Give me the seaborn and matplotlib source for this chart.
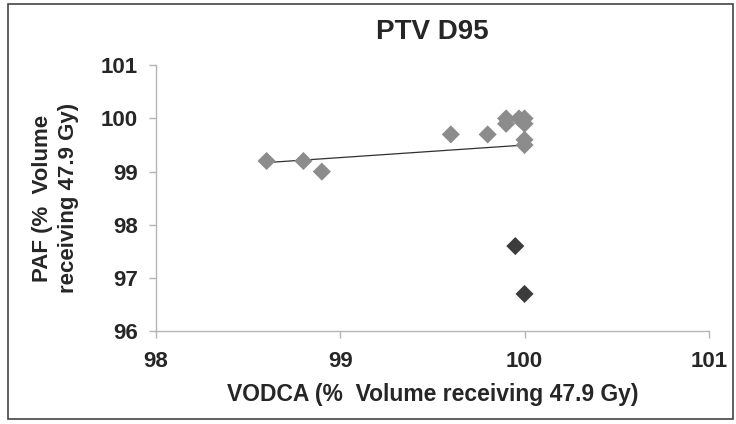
import seaborn as sns
import pandas as pd
import matplotlib.pyplot as plt
from matplotlib.patches import Rectangle

# values
vodca_main = [98.6, 98.8, 98.9, 99.6, 99.8, 99.9, 99.9, 99.97, 100.0, 100.0, 100.0, 100.0]
paf_main = [99.2, 99.2, 99.0, 99.7, 99.7, 100.0, 99.9, 100.0, 100.0, 99.9, 99.6, 99.5]
vodca_out = [99.95, 100.0]
paf_out = [97.6, 96.7]

# trend line as drawn in the chart (start/end)
trend_x = [98.6, 100.0]
trend_y = [99.17, 99.5]

df = pd.DataFrame({
    "vodca": vodca_main + vodca_out,
    "paf": paf_main + paf_out,
    "group": ["main"] * len(vodca_main) + ["outlier"] * len(vodca_out),
})
trend = pd.DataFrame({"vodca": trend_x, "paf": trend_y})

sns.set_theme(style="white")
plt.rcParams['font.family'] = ['Liberation Sans', 'DejaVu Sans']

fig = plt.figure(figsize=(7.36, 4.24), dpi=100)
ax = fig.add_axes([0.212, 0.219, 0.751, 0.627])

sns.lineplot(data=trend, x="vodca", y="paf", ax=ax, color="#303030", lw=0.9)

sns.scatterplot(data=df, x="vodca", y="paf", hue="group", ax=ax,
                palette={"main": "#8c8c8c", "outlier": "#3c3c3c"},
                marker="D", s=85, edgecolor="none", legend=False, zorder=3)

ax.set_xlim(98, 101)
ax.set_ylim(96, 101)
ax.set_xticks([98, 99, 100, 101])
ax.set_yticks([96, 97, 98, 99, 100, 101])
ax.tick_params(axis="both", labelsize=16, length=5, width=1, color="#b5b5b5",
               direction="out", bottom=True, left=True)
ax.tick_params(axis="x", pad=9)
ax.tick_params(axis="y", pad=8)
for lab in ax.get_xticklabels() + ax.get_yticklabels():
    lab.set_fontweight("bold")

for side in ["top", "right"]:
    ax.spines[side].set_visible(False)
for side in ["left", "bottom"]:
    ax.spines[side].set_color("#b5b5b5")
    ax.spines[side].set_linewidth(1)

ax.set_xlabel("VODCA (%  Volume receiving 47.9 Gy)", fontsize=16.5,
              fontweight="bold", labelpad=8)
ax.set_ylabel("PAF (%  Volume\nreceiving 47.9 Gy)", fontsize=16,
              fontweight="bold", labelpad=16, linespacing=1.3)
ax.set_title("PTV D95", fontsize=20, fontweight="bold", pad=19)

# outer frame around the whole chart
fig.patches.append(Rectangle((0.011, 0.012), 0.985, 0.979, transform=fig.transFigure,
                             fill=False, edgecolor="#444444", lw=1.2))

fig.savefig("out.png", dpi=100)
